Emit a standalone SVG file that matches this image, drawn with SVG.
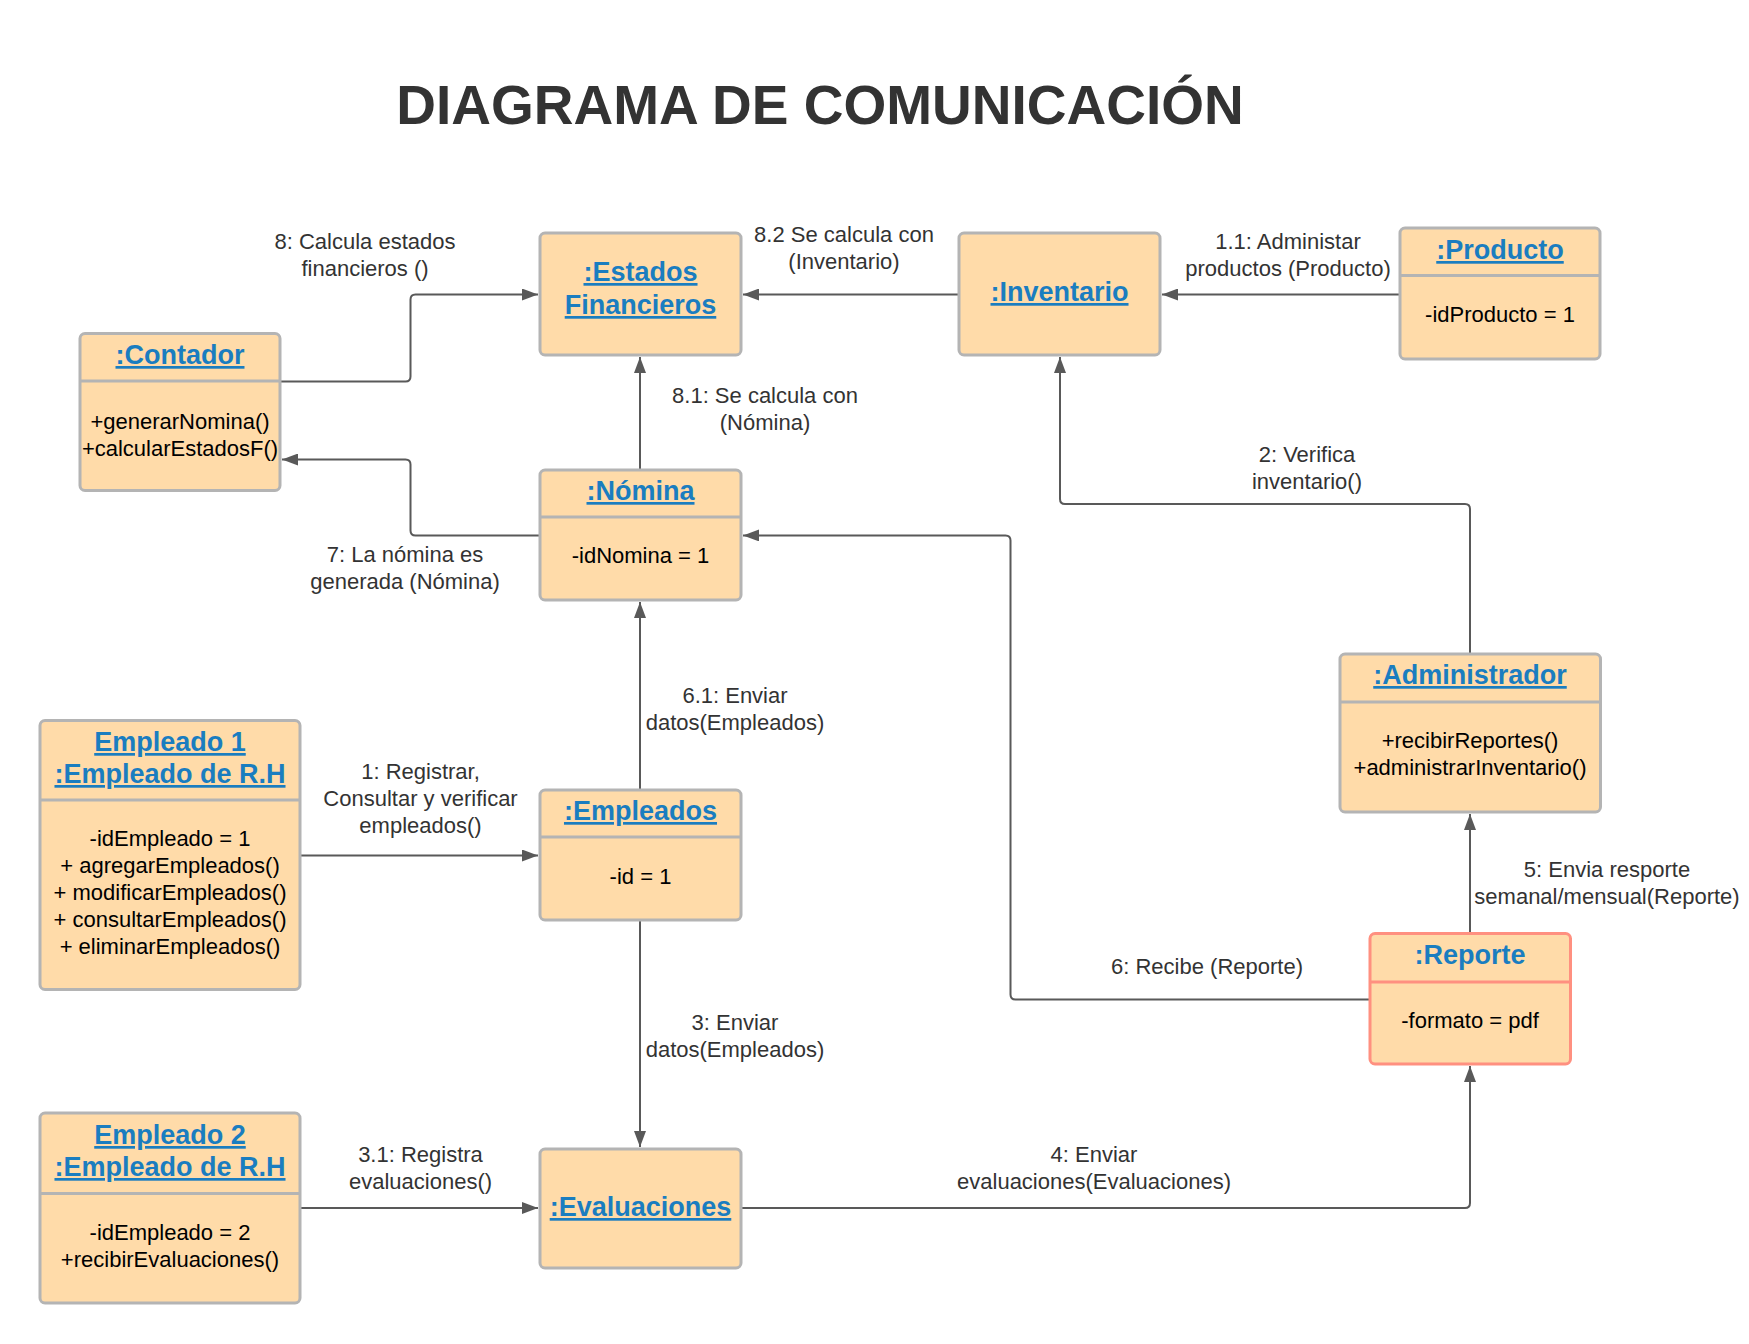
<svg xmlns="http://www.w3.org/2000/svg" width="1749" height="1344" viewBox="0 0 1749 1344">
<style>
.box{fill:#ffdba9;stroke:#b4b4b4;stroke-width:3}
.rep{fill:#ffdba9;stroke:#ff9080;stroke-width:3}
.div{stroke:#b4b4b4;stroke-width:3}
.divr{stroke:#ff9080;stroke-width:3}
.t{font-family:"Liberation Sans",Arial,sans-serif;font-weight:bold;font-size:27px;fill:#1a7dc0;text-anchor:middle;text-decoration:underline}
.tn{font-family:"Liberation Sans",Arial,sans-serif;font-weight:bold;font-size:27px;fill:#1a7dc0;text-anchor:middle}
.b{font-family:"Liberation Sans",Arial,sans-serif;font-size:22px;fill:#000;text-anchor:middle}
.l{font-family:"Liberation Sans",Arial,sans-serif;font-size:22px;fill:#333;text-anchor:middle}
</style>
<defs>
<marker id="ah2" viewBox="0 0 16 12" refX="16" refY="6" markerWidth="16" markerHeight="12" markerUnits="userSpaceOnUse" orient="auto">
<path d="M0,0 L16,6 L0,12 z" fill="#595959"/>
</marker>
</defs>
<rect width="1749" height="1344" fill="#ffffff"/>
<text x="820" y="124" font-family="Liberation Sans,Arial,sans-serif" font-weight="bold" font-size="55" fill="#333333" text-anchor="middle">DIAGRAMA DE COMUNICACIÓN</text>

<g id="connectors" fill="none" stroke="#595959" stroke-width="2">
<path d="M280,381.5 H405.5 Q410.5,381.5 410.5,376.5 V299.5 Q410.5,294.5 415.5,294.5 H538" marker-end="url(#ah2)"/>
<path d="M540,535.4 H415.5 Q410.5,535.4 410.5,530.4 V464.5 Q410.5,459.5 405.5,459.5 H282" marker-end="url(#ah2)"/>
<path d="M640,469.6 V357" marker-end="url(#ah2)"/>
<path d="M959,294.5 H743" marker-end="url(#ah2)"/>
<path d="M1400,294.5 H1162" marker-end="url(#ah2)"/>
<path d="M1470,653.6 V509 Q1470,504 1465,504 H1065 Q1060,504 1060,499 V357" marker-end="url(#ah2)"/>
<path d="M1369.7,999.4 H1015.5 Q1010.5,999.4 1010.5,994.4 V540.4 Q1010.5,535.4 1005.5,535.4 H743" marker-end="url(#ah2)"/>
<path d="M1470,933.6 V814" marker-end="url(#ah2)"/>
<path d="M300,855.5 H538" marker-end="url(#ah2)"/>
<path d="M640,789.7 V602" marker-end="url(#ah2)"/>
<path d="M640,920 V1147" marker-end="url(#ah2)"/>
<path d="M300,1208 H538" marker-end="url(#ah2)"/>
<path d="M741,1208 H1465 Q1470,1208 1470,1203 V1066" marker-end="url(#ah2)"/>
</g>

<g id="labels">
<text class="l" x="365" y="249">8: Calcula estados</text>
<text class="l" x="365" y="276">financieros ()</text>
<text class="l" x="405" y="562">7: La nómina es</text>
<text class="l" x="405" y="589">generada (Nómina)</text>
<text class="l" x="765" y="403">8.1: Se calcula con</text>
<text class="l" x="765" y="430">(Nómina)</text>
<text class="l" x="844" y="242">8.2 Se calcula con</text>
<text class="l" x="844" y="269">(Inventario)</text>
<text class="l" x="1288" y="249">1.1: Administar</text>
<text class="l" x="1288" y="276">productos (Producto)</text>
<text class="l" x="1307" y="462">2: Verifica</text>
<text class="l" x="1307" y="489">inventario()</text>
<text class="l" x="1207" y="974">6: Recibe (Reporte)</text>
<text class="l" x="1607" y="877">5: Envia resporte</text>
<text class="l" x="1607" y="904">semanal/mensual(Reporte)</text>
<text class="l" x="420.5" y="779">1: Registrar,</text>
<text class="l" x="420.5" y="806">Consultar y verificar</text>
<text class="l" x="420.5" y="833">empleados()</text>
<text class="l" x="735" y="703">6.1: Enviar</text>
<text class="l" x="735" y="730">datos(Empleados)</text>
<text class="l" x="735" y="1030">3: Enviar</text>
<text class="l" x="735" y="1057">datos(Empleados)</text>
<text class="l" x="420.5" y="1162">3.1: Registra</text>
<text class="l" x="420.5" y="1189">evaluaciones()</text>
<text class="l" x="1094" y="1162">4: Enviar</text>
<text class="l" x="1094" y="1189">evaluaciones(Evaluaciones)</text>
</g>

<g id="estados">
<rect class="box" x="540" y="233" width="201" height="122" rx="5"/>
<text class="t" x="640.5" y="281">:Estados</text>
<text class="t" x="640.5" y="314">Financieros</text>
</g>
<g id="inventario">
<rect class="box" x="959" y="233" width="201" height="122" rx="5"/>
<text class="t" x="1059.5" y="301">:Inventario</text>
</g>
<g id="producto">
<rect class="box" x="1400" y="228" width="200" height="131" rx="5"/>
<line class="div" x1="1400" y1="275.5" x2="1600" y2="275.5"/>
<text class="t" x="1500" y="259">:Producto</text>
<text class="b" x="1500" y="322">-idProducto = 1</text>
</g>
<g id="contador">
<rect class="box" x="80" y="333.5" width="200" height="157" rx="5"/>
<line class="div" x1="80" y1="381" x2="280" y2="381"/>
<text class="t" x="180" y="364">:Contador</text>
<text class="b" x="180" y="429">+generarNomina()</text>
<text class="b" x="180" y="456">+calcularEstadosF()</text>
</g>
<g id="nomina">
<rect class="box" x="540" y="470" width="201" height="130" rx="5"/>
<line class="div" x1="540" y1="517" x2="741" y2="517"/>
<text class="t" x="640.5" y="500">:Nómina</text>
<text class="b" x="640.5" y="563">-idNomina = 1</text>
</g>
<g id="administrador">
<rect class="box" x="1340" y="654" width="260.5" height="158" rx="5"/>
<line class="div" x1="1340" y1="702" x2="1600.5" y2="702"/>
<text class="t" x="1470" y="684">:Administrador</text>
<text class="b" x="1470" y="748">+recibirReportes()</text>
<text class="b" x="1470" y="775">+administrarInventario()</text>
</g>
<g id="empleado1">
<rect class="box" x="40" y="720.5" width="260" height="269" rx="5"/>
<line class="div" x1="40" y1="800" x2="300" y2="800"/>
<text class="t" x="170" y="751">Empleado 1</text>
<text class="t" x="170" y="783">:Empleado de R.H</text>
<text class="b" x="170" y="846">-idEmpleado = 1</text>
<text class="b" x="170" y="873">+ agregarEmpleados()</text>
<text class="b" x="170" y="900">+ modificarEmpleados()</text>
<text class="b" x="170" y="927">+ consultarEmpleados()</text>
<text class="b" x="170" y="954">+ eliminarEmpleados()</text>
</g>
<g id="empleados">
<rect class="box" x="540" y="790" width="201" height="130" rx="5"/>
<line class="div" x1="540" y1="837" x2="741" y2="837"/>
<text class="t" x="640.5" y="820">:Empleados</text>
<text class="b" x="640.5" y="884">-id = 1</text>
</g>
<g id="reporte">
<rect class="rep" x="1370" y="933.6" width="200.5" height="130.4" rx="5"/>
<line class="divr" x1="1370" y1="982" x2="1570.5" y2="982"/>
<text class="tn" x="1470" y="964">:Reporte</text>
<text class="b" x="1470" y="1028">-formato = pdf</text>
</g>
<g id="empleado2">
<rect class="box" x="40" y="1113" width="260" height="190" rx="5"/>
<line class="div" x1="40" y1="1193.5" x2="300" y2="1193.5"/>
<text class="t" x="170" y="1144">Empleado 2</text>
<text class="t" x="170" y="1176">:Empleado de R.H</text>
<text class="b" x="170" y="1240">-idEmpleado = 2</text>
<text class="b" x="170" y="1267">+recibirEvaluaciones()</text>
</g>
<g id="evaluaciones">
<rect class="box" x="540" y="1149" width="201" height="119" rx="5"/>
<text class="t" x="640.5" y="1216">:Evaluaciones</text>
</g>
</svg>
